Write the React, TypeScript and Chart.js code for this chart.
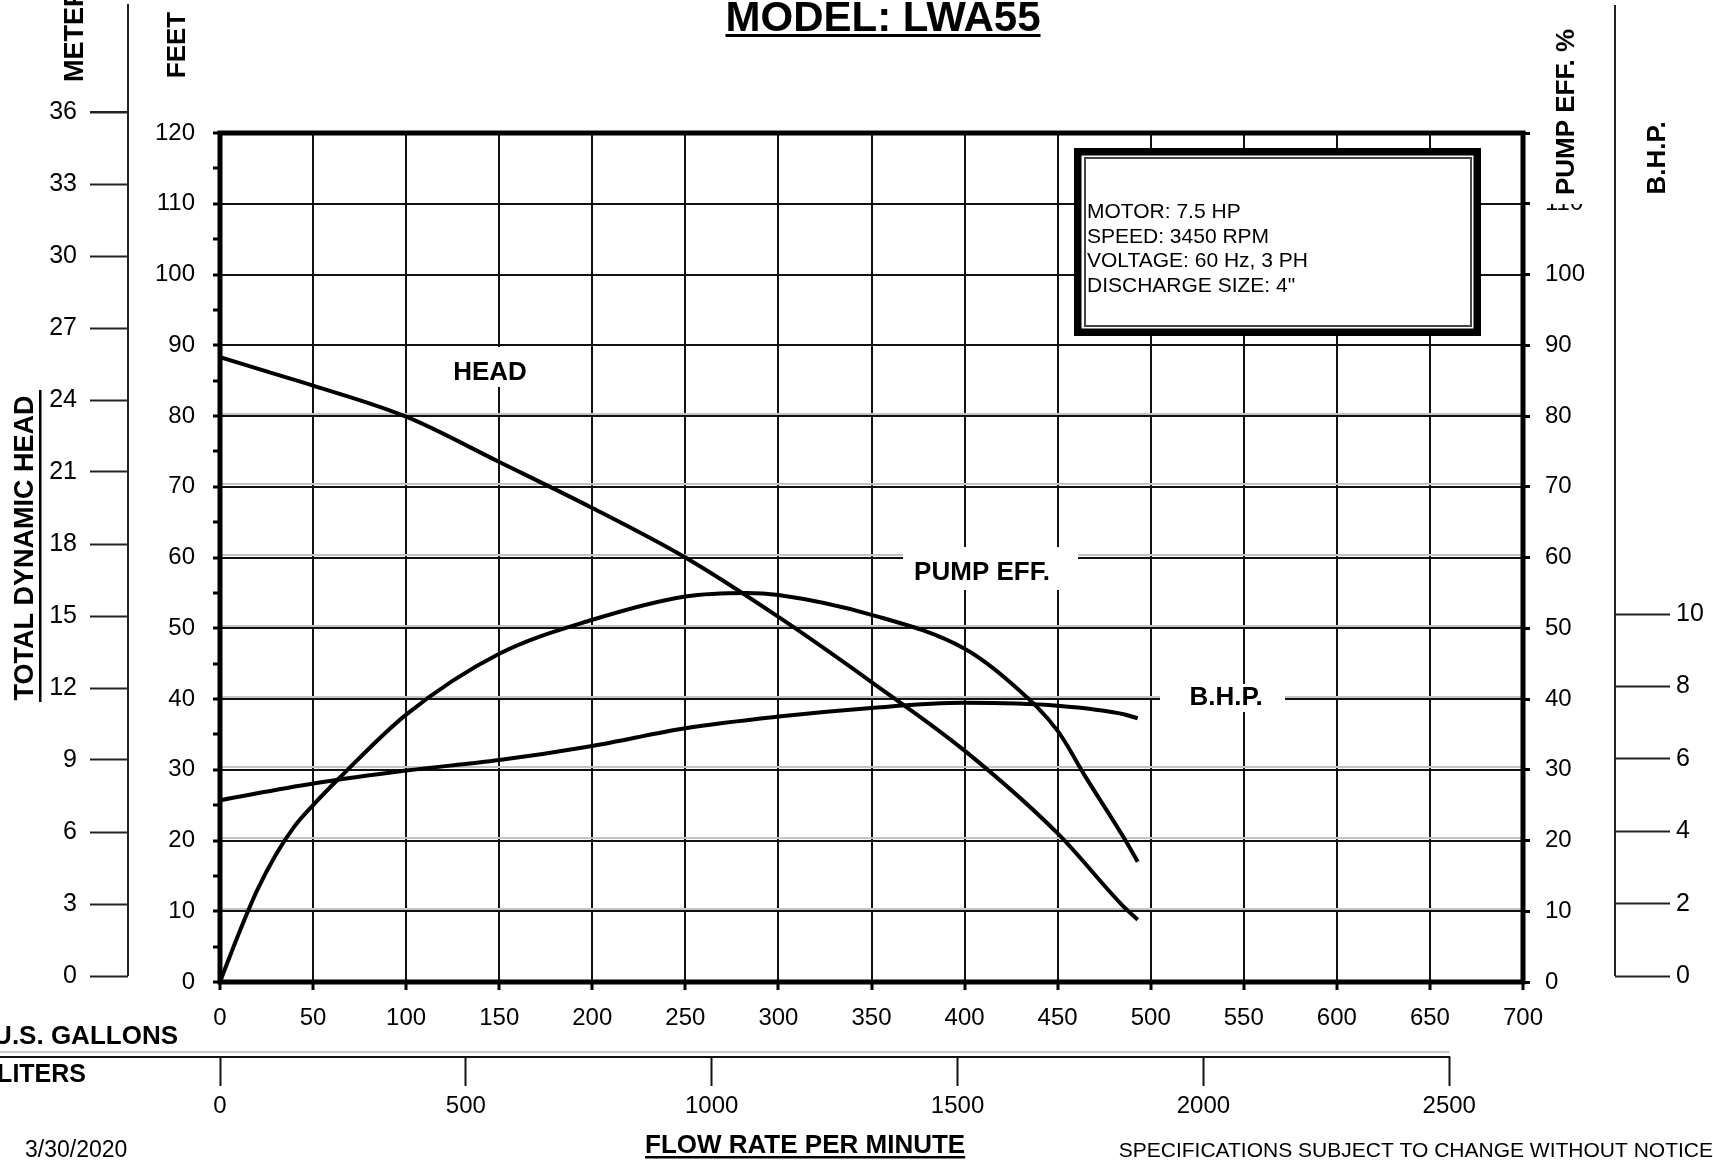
import React, { useEffect, useRef } from 'react';
import { Chart, registerables } from 'chart.js';

Chart.register(...registerables);

// ---- data ----
const headFlow = [0, 25, 50, 100, 150, 200, 250, 300, 350, 400, 450, 486, 493];
const headFeet = [88.3, 86.3, 84.3, 79.9, 73.5, 67.0, 60.0, 51.6, 42.4, 32.7, 21.0, 10.5, 8.8];

const effFlow = [0, 10, 20, 30, 40, 50, 64, 100, 150, 200, 250, 283, 300, 350, 400, 426, 450, 465, 486, 493];
const effPct = [0, 6.8, 13.0, 18.0, 22.0, 25.0, 28.8, 37.8, 46.4, 51.2, 54.5, 55.0, 54.7, 51.9, 47.1, 42.0, 35.5, 29.0, 20.2, 17.0];

const bhpFlow = [0, 50, 100, 150, 200, 250, 300, 350, 400, 450, 486, 493];
const bhpValues = [4.86, 5.32, 5.68, 5.97, 6.36, 6.85, 7.17, 7.41, 7.55, 7.47, 7.23, 7.12];

const meterTicks = [0, 3, 6, 9, 12, 15, 18, 21, 24, 27, 30, 33, 36];
const bhpTicks = [0, 2, 4, 6, 8, 10];
const literTicks = [0, 500, 1000, 1500, 2000, 2500];
const shadowGridTicks = [10, 20, 30, 40, 50, 60, 70, 80];

const infoLines = ['MOTOR: 7.5 HP', 'SPEED: 3450 RPM', 'VOLTAGE: 60 Hz, 3 PH', 'DISCHARGE SIZE: 4"'];

const FONT = '"Liberation Sans", Arial, Helvetica, sans-serif';

function rotText(ctx: CanvasRenderingContext2D, text: string, x: number, y: number, align: CanvasTextAlign, font: string) {
  ctx.save();
  ctx.translate(x, y);
  ctx.rotate(-Math.PI / 2);
  ctx.font = font;
  ctx.textAlign = align;
  ctx.textBaseline = 'middle';
  ctx.fillStyle = '#000';
  ctx.fillText(text, 0, 0);
  ctx.restore();
}

const decor = {
  id: 'decor',
  beforeDraw(chart: any) {
    const ctx = chart.ctx;
    ctx.save();
    ctx.fillStyle = '#fff';
    ctx.fillRect(0, 0, chart.width, chart.height);
    ctx.restore();
  },
  afterDraw(chart: any) {
    const ctx: CanvasRenderingContext2D = chart.ctx;
    const a = chart.chartArea;
    const s = chart.scales;
    ctx.save();

    // plot frame
    ctx.strokeStyle = '#000';
    ctx.lineWidth = 5;
    ctx.strokeRect(a.left, a.top, a.right - a.left, a.bottom - a.top);

    // meters axis line + out-of-range tick
    const m = s.meters;
    ctx.lineWidth = 2;
    ctx.strokeStyle = '#222';
    ctx.beginPath();
    ctx.moveTo(m.right, 4);
    ctx.lineTo(m.right, m.getPixelForValue(0));
    ctx.stroke();
    meterTicks.forEach((v) => {
      const py = m.getPixelForValue(v);
      if (py < m.top - 0.5) {
        ctx.beginPath();
        ctx.moveTo(m.right - 38, py);
        ctx.lineTo(m.right, py);
        ctx.stroke();
      }
    });

    // BHP axis line
    const b = s.bhp;
    ctx.beginPath();
    ctx.moveTo(b.left, 5);
    ctx.lineTo(b.left, b.getPixelForValue(0));
    ctx.stroke();

    // liters axis line
    const l = s.liters;
    const l2500 = l.getPixelForValue(2500);
    ctx.strokeStyle = '#c8c8c8';
    ctx.beginPath();
    ctx.moveTo(0, l.top - 5);
    ctx.lineTo(l2500, l.top - 5);
    ctx.stroke();
    ctx.strokeStyle = '#111';
    ctx.beginPath();
    ctx.moveTo(0, l.top);
    ctx.lineTo(l2500 + 1, l.top);
    ctx.stroke();

    // info box
    ctx.fillStyle = '#fff';
    ctx.fillRect(1074, 148, 407, 188);
    ctx.strokeStyle = '#000';
    ctx.lineWidth = 7.5;
    ctx.strokeRect(1077.75, 151.75, 399.5, 180.5);
    ctx.lineWidth = 2;
    ctx.strokeStyle = '#444';
    ctx.strokeRect(1085, 158, 386, 168);
    ctx.fillStyle = '#000';
    ctx.font = `21px ${FONT}`;
    ctx.textAlign = 'left';
    ctx.textBaseline = 'alphabetic';
    infoLines.forEach((t, i) => ctx.fillText(t, 1087, 218 + i * 24.7));

    // curve labels with white backing
    const label = (t: string, cx: number, by: number, rx: number, ry: number, rw: number, rh: number) => {
      ctx.fillStyle = '#fff';
      ctx.fillRect(rx, ry, rw, rh);
      ctx.fillStyle = '#000';
      ctx.font = `bold 26px ${FONT}`;
      ctx.textAlign = 'center';
      ctx.textBaseline = 'alphabetic';
      ctx.fillText(t, cx, by);
    };
    label('HEAD', 490, 380, 450, 347, 80, 40);
    label('PUMP EFF.', 982, 580, 903, 547, 175, 43);
    label('B.H.P.', 1226, 705, 1160, 684, 125, 28);

    // titles
    ctx.fillStyle = '#000';
    ctx.font = `bold 42px ${FONT}`;
    ctx.textAlign = 'center';
    ctx.textBaseline = 'alphabetic';
    ctx.fillText('MODEL: LWA55', 883, 31);
    const mw = ctx.measureText('MODEL: LWA55').width;
    ctx.fillRect(883 - mw / 2, 34, mw, 3);

    rotText(ctx, 'METERS', 76, 82, 'left', `bold 27px ${FONT}`);
    rotText(ctx, 'FEET', 178, 45, 'center', `bold 26px ${FONT}`);
    rotText(ctx, 'TOTAL DYNAMIC HEAD', 26, 548, 'center', `bold 27px ${FONT}`);
    ctx.fillStyle = '#000';
    ctx.fillRect(39, 390, 2.5, 312);

    ctx.fillStyle = '#fff';
    ctx.fillRect(1541, 0, 56, 204);
    rotText(ctx, 'PUMP EFF. %', 1567, 112, 'center', `bold 26px ${FONT}`);
    rotText(ctx, 'B.H.P.', 1658, 158, 'center', `bold 26px ${FONT}`);

    ctx.fillStyle = '#000';
    ctx.font = `bold 26px ${FONT}`;
    ctx.textAlign = 'right';
    ctx.fillText('U.S. GALLONS', 178, 1044);
    ctx.font = `bold 25px ${FONT}`;
    ctx.fillText('LITERS', 86, 1082);

    ctx.font = `23px ${FONT}`;
    ctx.textAlign = 'left';
    ctx.fillText('3/30/2020', 25, 1157);

    ctx.font = `bold 26px ${FONT}`;
    ctx.fillText('FLOW RATE PER MINUTE', 645, 1153);
    const fw = ctx.measureText('FLOW RATE PER MINUTE').width;
    ctx.fillRect(645, 1156, fw, 2.5);

    ctx.font = `21px ${FONT}`;
    ctx.textAlign = 'right';
    ctx.fillText('SPECIFICATIONS SUBJECT TO CHANGE WITHOUT NOTICE', 1713, 1157);

    ctx.restore();
  },
};

const plain = (v: any) => String(v);

export default function App() {
  const ref = useRef<HTMLCanvasElement | null>(null);

  useEffect(() => {
    if (!ref.current) return;
    Chart.defaults.color = '#000';
    Chart.defaults.font.family = FONT;

    const tickFont = { family: FONT, size: 24 };
    const line = (xs: number[], ys: number[], axis: string, name: string) => ({
      label: name,
      data: xs.map((x, i) => ({ x, y: ys[i] })),
      xAxisID: 'x',
      yAxisID: axis,
      borderColor: '#000',
      borderWidth: 4,
      pointRadius: 0,
      fill: false,
      cubicInterpolationMode: 'monotone' as const,
    });

    const chart = new Chart(ref.current, {
      type: 'line',
      data: {
        datasets: [
          line(headFlow, headFeet, 'feet', 'HEAD'),
          line(effFlow, effPct, 'eff', 'PUMP EFF.'),
          line(bhpFlow, bhpValues, 'bhp', 'B.H.P.'),
        ],
      },
      options: {
        responsive: false,
        animation: false,
        devicePixelRatio: 1,
        layout: { padding: { top: 133, left: 0, right: 0, bottom: 0 } },
        plugins: { legend: { display: false }, tooltip: { enabled: false }, title: { display: false } },
        scales: {
          x: {
            type: 'linear',
            position: 'bottom',
            weight: 0,
            min: 0,
            max: 700,
            ticks: { stepSize: 50, autoSkip: false, maxRotation: 0, minRotation: 0, padding: 14, font: tickFont, color: '#000', callback: plain },
            grid: { color: '#111', lineWidth: 2, tickLength: 8, tickColor: '#000', tickWidth: 3 },
            border: { display: false },
            afterFit: (sc: any) => { sc.height = 75; },
          },
          liters: {
            type: 'linear',
            position: 'bottom',
            weight: 1,
            min: 0,
            max: 2650,
            afterBuildTicks: (sc: any) => { sc.ticks = literTicks.map((v) => ({ value: v })); },
            ticks: { autoSkip: false, maxRotation: 0, minRotation: 0, padding: 6, font: { family: FONT, size: 24 }, color: '#000', callback: plain },
            grid: { drawOnChartArea: false, tickLength: 29, tickColor: '#111', tickWidth: 2 },
            border: { display: false },
            afterFit: (sc: any) => { sc.height = 103; },
          },
          feet: {
            type: 'linear',
            position: 'left',
            weight: 0,
            min: 0,
            max: 120,
            ticks: {
              stepSize: 5,
              autoSkip: false,
              padding: 18,
              font: tickFont,
              color: '#000',
              callback: (v: any) => (Number(v) % 10 === 0 ? String(v) : ''),
            },
            grid: {
              color: (c: any) => (c.tick && c.tick.value % 10 === 0 ? '#111' : 'rgba(0,0,0,0)'),
              lineWidth: 2,
              tickLength: 7,
              tickColor: '#000',
              tickWidth: 3,
            },
            border: { display: false },
            afterFit: (sc: any) => { sc.width = 92; },
          },
          meters: {
            type: 'linear',
            position: 'left',
            weight: 1,
            min: -0.25,
            max: 35.125,
            afterBuildTicks: (sc: any) => { sc.ticks = meterTicks.map((v) => ({ value: v })); },
            ticks: { autoSkip: false, padding: 13, font: { family: FONT, size: 25 }, color: '#000', callback: plain },
            grid: { drawOnChartArea: false, tickLength: 38, tickColor: '#222', tickWidth: 2 },
            border: { display: false },
            afterFit: (sc: any) => { sc.width = 128; },
          },
          shadow: {
            type: 'linear',
            position: 'right',
            weight: -1,
            min: -0.35,
            max: 119.65,
            afterBuildTicks: (sc: any) => { sc.ticks = shadowGridTicks.map((v) => ({ value: v })); },
            ticks: { display: false },
            grid: { color: '#c4c4c4', lineWidth: 2, drawTicks: false, z: -1 },
            border: { display: false },
            afterFit: (sc: any) => { sc.width = 0; },
          },
          eff: {
            type: 'linear',
            position: 'right',
            weight: 0,
            min: 0,
            max: 120,
            ticks: {
              stepSize: 10,
              autoSkip: false,
              padding: 15,
              font: tickFont,
              color: '#000',
              callback: (v: any) => (Number(v) <= 110 ? String(v) : ''),
            },
            grid: { drawOnChartArea: false, tickLength: 7, tickColor: '#000', tickWidth: 3 },
            border: { display: false },
            afterFit: (sc: any) => { sc.width = 92; },
          },
          bhp: {
            type: 'linear',
            position: 'right',
            weight: 1,
            min: -0.165,
            max: 23.3,
            afterBuildTicks: (sc: any) => { sc.ticks = bhpTicks.map((v) => ({ value: v })); },
            ticks: { autoSkip: false, padding: 6, font: { family: FONT, size: 25 }, color: '#000', callback: plain },
            grid: { drawOnChartArea: false, tickLength: 55, tickColor: '#222', tickWidth: 2 },
            border: { display: false },
            afterFit: (sc: any) => { sc.width = 98; },
          },
        },
      } as any,
      plugins: [decor],
    });

    return () => chart.destroy();
  }, []);

  return (
    <div style={{ position: 'fixed', left: 0, top: 0, width: 1713, height: 1160, background: '#fff' }}>
      <canvas ref={ref} width={1713} height={1160} style={{ display: 'block', width: 1713, height: 1160 }} />
    </div>
  );
}
